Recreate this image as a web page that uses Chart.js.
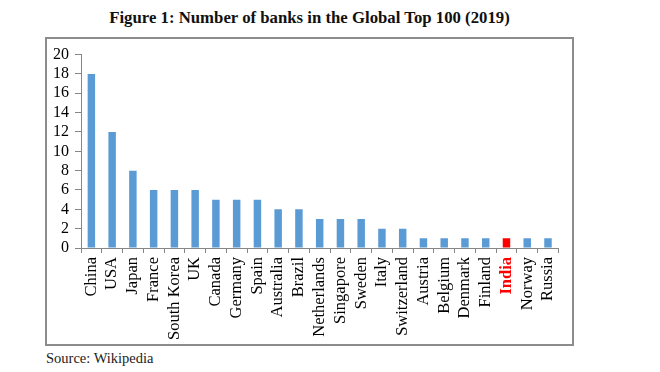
<!DOCTYPE html>
<html>
<head>
<meta charset="utf-8">
<script src="https://cdn.jsdelivr.net/npm/chart.js@4/dist/chart.umd.min.js"></script>
<style>
  body { margin: 0; background: #fff; font-family: 'Liberation Serif', 'Times New Roman', serif; }
  #title { position: absolute; left: 45px; width: 529px; top: 8px; text-align: center; font-weight: bold; font-size: 16.75px; color: #111; }
  #box { position: absolute; left: 45px; top: 37px; width: 525px; height: 305px; border: 2px solid #8c8c8c; }
  #source { position: absolute; left: 46px; top: 350px; font-size: 14.5px; color: #222; }
</style>
</head>
<body>
<div id="title">Figure 1: Number of banks in the Global Top 100 (2019)</div>
<div id="box"><canvas id="banksChart" width="525" height="305"></canvas></div>
<div id="source">Source: Wikipedia</div>
<script>
// Data
const countries = ['China', 'USA', 'Japan', 'France', 'South Korea', 'UK', 'Canada', 'Germany', 'Spain',
    'Australia', 'Brazil', 'Netherlands', 'Singapore', 'Sweden', 'Italy', 'Switzerland', 'Austria',
    'Belgium', 'Denmark', 'Finland', 'India', 'Norway', 'Russia'];
const banks = [18, 12, 8, 6, 6, 6, 5, 5, 5, 4, 4, 3, 3, 3, 2, 2, 1, 1, 1, 1, 1, 1, 1];
const yTicks = [0, 2, 4, 6, 8, 10, 12, 14, 16, 18, 20];
const highlight = 'India';

const blue = '#5b9bd5';
const red = '#ff0000';
const axisGray = '#868686';

const barColors = countries.map(c => c === highlight ? red : blue);

const ctx = document.getElementById('banksChart').getContext('2d');
new Chart(ctx, {
    type: 'bar',
    data: {
        labels: countries,
        datasets: [{
            data: banks,
            backgroundColor: barColors,
            barPercentage: 0.36,
            categoryPercentage: 1
        }]
    },
    options: {
        responsive: false,
        animation: false,
        layout: { padding: { top: 8, right: 10, bottom: 0, left: 0 } },
        plugins: { legend: { display: false }, tooltip: { enabled: false } },
        scales: {
            x: {
                afterFit: s => { s.height = 96; },
                grid: { offset: true, drawOnChartArea: false, tickLength: 5, color: axisGray },
                border: { color: axisGray, width: 1 },
                ticks: {
                    autoSkip: false,
                    minRotation: 90,
                    maxRotation: 90,
                    padding: 4,
                    color: c => countries[c.index] === highlight ? red : '#000',
                    font: c => ({ family: 'Liberation Serif', size: 16.5, weight: countries[c.index] === highlight ? 'bold' : 'normal' })
                }
            },
            y: {
                min: yTicks[0],
                max: yTicks[yTicks.length - 1],
                afterFit: s => { s.width = 34; },
                afterBuildTicks: s => { s.ticks = yTicks.map(v => ({ value: v })); },
                grid: { drawOnChartArea: false, tickLength: 6, color: axisGray },
                border: { color: axisGray, width: 1 },
                ticks: {
                    autoSkip: false,
                    padding: 6,
                    color: '#000',
                    font: { family: 'Liberation Serif', size: 16 }
                }
            }
        }
    }
});
</script>
</body>
</html>
